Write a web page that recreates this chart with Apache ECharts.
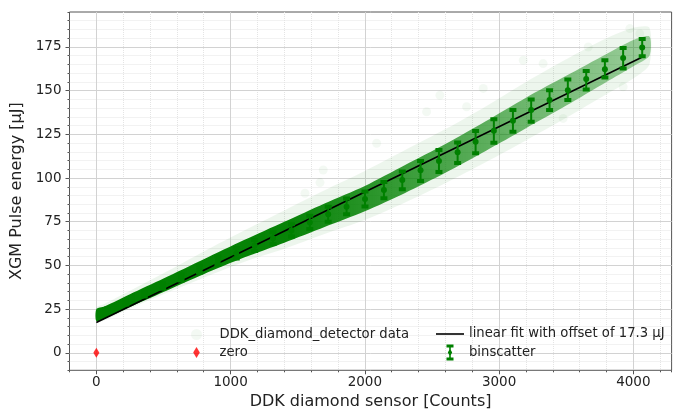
<!DOCTYPE html>
<html>
<head>
<meta charset="utf-8">
<title>XGM pulse energy vs DDK diamond sensor</title>
<script src="https://cdn.jsdelivr.net/npm/echarts@6/dist/echarts.min.js"></script>
<style>
  html, body { margin: 0; padding: 0; background: #fff; }
  #chart { width: 674px; height: 410px; }
</style>
</head>
<body>
<div id="chart"></div>
<script>
// scatter cloud, read as envelopes (faint halo + dense core) along x
var cloudX = [0, 60, 250, 500, 800, 1100, 1400, 1700, 2000, 2300, 2600, 2900, 3200, 3500, 3800, 4000, 4120];
var haloLo = [17.5, 18.5, 25.3, 33.5, 43, 52, 59.5, 68, 76, 86, 97, 109, 121.5, 134.5, 148, 157, 165];
var haloHi = [26, 28, 35.5, 45.5, 58, 70, 81.5, 93, 104, 116, 128, 141, 155, 168, 180, 186, 186];
var coreLo = [18.2, 19.5, 26.2, 34.8, 45, 54.5, 63, 72, 81, 91.5, 103, 115.5, 128.5, 141.5, 155, 164, 170];
var coreHi = [25, 26.5, 33.5, 42.5, 53.5, 64.5, 75, 85.5, 95.5, 107.5, 119.5, 132.5, 146, 158.5, 171, 179, 181];

// a few loose points outside the cloud
var outlierX = [1554, 1666, 1690, 2088, 2460, 2559, 2758, 2882, 3031, 3180, 3328, 3477, 3664, 3924, 3974, 4048];
var outlierY = [91.3, 97.4, 104.6, 119.9, 137.9, 147.4, 140.8, 151.3, 123.6, 167.4, 165.5, 134.1, 175, 152.2, 185.5, 182.6];

// linear fit
var fitX = [0, 4060];
var fitY = [17.3, 169];

// binscatter: bin centre, mean, error bar low/high
var binX = [83, 220, 357, 494, 631, 768, 905, 1042, 1179, 1316, 1453, 1590, 1727, 1864, 2001,
            2142, 2279, 2415, 2552, 2691, 2825, 2961, 3103, 3239, 3376, 3512, 3649, 3788, 3924, 4066];
var binMean = [24.3, 28.9, 33.6, 38.3, 43.2, 48.0, 52.8, 57.0, 61.4, 65.6, 70.0, 74.6, 79.3, 83.6, 88.0,
               93.2, 98.9, 104.5, 109.8, 114.8, 120.8, 127.1, 132.8, 138.9, 144.6, 150.3, 156.6, 162.3, 168.7, 174.7];
var binLo = [23.3, 27.7, 32.2, 36.7, 41.4, 46.0, 50.5, 54.0, 58.3, 62.3, 66.5, 70.8, 75.0, 79.3, 83.7,
             88.5, 93.6, 98.3, 103.5, 108.6, 114.2, 120.2, 126.5, 132.2, 138.9, 144.6, 150.7, 157.5, 162.7, 169.7];
var binHi = [25.3, 30.1, 35.0, 39.9, 45.0, 50.0, 55.1, 60.0, 64.5, 69.0, 73.5, 78.4, 83.6, 88.3, 92.3,
             97.8, 103.7, 109.8, 116.0, 120.4, 126.9, 133.7, 139.0, 145.0, 150.3, 156.4, 161.3, 167.4, 174.4, 179.6];

var zeroX = [0];
var zeroY = [0];

var xTicks = [0, 1000, 2000, 3000, 4000];
var yTicks = [0, 25, 50, 75, 100, 125, 150, 175];

var fitName = 'linear fit with offset of 17.3 μJ';
var font = 'DejaVu Sans';
var green = '#008000';
var diamondPath = 'path://M3,0 L6,5 L3,10 L0,5 Z';
var linePath = 'path://M0,0 H28 V1.6 H0 Z';
var errbarPath = 'path://M0,0 H7 V3 H4.3 V5.5 L5.7,8 L4.3,10.5 V13 H7 V16 H0 V13 H2.7 V10.5 L1.3,8 L2.7,5.5 V3 H0 Z';

function renderCloud(params, api) {
    if (params.dataIndex !== 0) return null;
    function band(lo, hi) {
        var pts = [];
        for (var i = 0; i < cloudX.length; i++) pts.push(api.coord([cloudX[i], hi[i]]));
        for (var j = cloudX.length - 1; j >= 0; j--) pts.push(api.coord([cloudX[j], lo[j]]));
        return pts;
    }
    var coreFill = new echarts.graphic.LinearGradient(0, 0, 1, 0, [
        { offset: 0, color: 'rgba(0,128,0,1)' },
        { offset: 0.35, color: 'rgba(0,128,0,0.97)' },
        { offset: 0.5, color: 'rgba(0,128,0,0.82)' },
        { offset: 0.75, color: 'rgba(0,128,0,0.56)' },
        { offset: 1, color: 'rgba(0,128,0,0.34)' }
    ]);
    return {
        type: 'group',
        children: [
            { type: 'polygon', shape: { points: band(haloLo, haloHi), smooth: 0.25 }, style: { fill: 'rgba(0,128,0,0.07)' } },
            { type: 'polygon', shape: { points: band(coreLo, coreHi), smooth: 0.25 }, style: { fill: coreFill } }
        ]
    };
}

function renderBin(params, api) {
    var x = api.value(0);
    var mid = api.coord([x, api.value(1)]);
    var bot = api.coord([x, api.value(2)]);
    var top = api.coord([x, api.value(3)]);
    var c = api.visual('color');
    return {
        type: 'group',
        children: [
            { type: 'line', shape: { x1: top[0], y1: top[1], x2: bot[0], y2: bot[1] }, style: { stroke: c, lineWidth: 2 } },
            { type: 'rect', shape: { x: top[0] - 3.5, y: top[1] - 2, width: 7, height: 4 }, style: { fill: c } },
            { type: 'rect', shape: { x: bot[0] - 3.5, y: bot[1] - 2, width: 7, height: 4 }, style: { fill: c } },
            { type: 'circle', shape: { cx: mid[0], cy: mid[1], r: 3 }, style: { fill: c } }
        ]
    };
}

var chart = echarts.init(document.getElementById('chart'));

var option = {
    animation: false,
    textStyle: { fontFamily: font },
    grid: {
        left: 69.5, right: 2.4, top: 12, bottom: 39.7,
        outerBoundsMode: 'none', containLabel: false,
        show: true, borderColor: '#555', borderWidth: 1, backgroundColor: 'transparent'
    },
    xAxis: [{
        // minor grid and minor ticks, every 200
        type: 'value', min: -200, max: 4285, interval: 200, position: 'bottom', z: 0,
        axisLine: { show: false, onZero: false },
        axisTick: { length: 2, lineStyle: { color: '#555' } },
        axisLabel: { show: false },
        splitLine: { show: true, showMinLine: false, showMaxLine: false,
            lineStyle: { color: '#e4e4e4', type: 'dotted', width: 1 } }
    }, {
        type: 'value', min: -200, max: 4285, interval: 200, position: 'bottom', z: 1,
        name: 'DDK diamond sensor [Counts]', nameLocation: 'middle', nameGap: 22,
        nameTextStyle: { fontSize: 16, color: '#222', fontFamily: font },
        axisLine: { show: false, onZero: false },
        axisTick: { customValues: xTicks, length: 4, lineStyle: { color: '#555' } },
        axisLabel: { customValues: xTicks, fontSize: 13.5, color: '#222', margin: 5, fontFamily: font,
            formatter: function (v) { return String(v); } },
        splitLine: { show: true, lineStyle: { color: '#d2d2d2', width: 1 } }
    }],
    yAxis: [{
        type: 'value', min: -10, max: 195, interval: 5, position: 'left', z: 0,
        axisLine: { show: false, onZero: false },
        axisTick: { length: 2, lineStyle: { color: '#555' } },
        axisLabel: { show: false },
        splitLine: { show: true, showMinLine: false, showMaxLine: false,
            lineStyle: { color: '#e4e4e4', type: 'dotted', width: 1 } }
    }, {
        type: 'value', min: -10, max: 195, interval: 5, position: 'left', z: 1,
        name: 'XGM Pulse energy [μJ]', nameLocation: 'middle', nameGap: 34,
        nameTextStyle: { fontSize: 16, color: '#222', fontFamily: font },
        axisLine: { show: false, onZero: false },
        axisTick: { customValues: yTicks, length: 4, lineStyle: { color: '#555' } },
        axisLabel: { customValues: yTicks, fontSize: 13.5, color: '#222', margin: 8, fontFamily: font,
            formatter: function (v) { return String(v); } },
        splitLine: { show: true, lineStyle: { color: '#d2d2d2', width: 1 } }
    }],
    legend: [{
        orient: 'vertical', left: 186, top: 323, itemWidth: 36, itemHeight: 11, itemGap: 5,
        textStyle: { fontSize: 13.2, color: '#222', fontFamily: font },
        data: [{ name: 'DDK_diamond_detector data', icon: 'circle' }, { name: 'zero', icon: diamondPath }]
    }, {
        orient: 'vertical', left: 431, top: 322.5, itemWidth: 28, itemHeight: 16, itemGap: 4,
        textStyle: { fontSize: 13.2, color: '#222', fontFamily: font },
        data: [{ name: fitName, icon: linePath }, { name: 'binscatter', icon: errbarPath }]
    }],
    series: [{
        type: 'custom',
        name: 'cloud',
        clip: true,
        z: 1,
        renderItem: renderCloud,
        encode: { x: 0, y: [1, 2] },
        data: cloudX.map(function (x, i) { return [x, haloLo[i], haloHi[i]]; })
    }, {
        type: 'scatter',
        name: 'DDK_diamond_detector data',
        z: 2,
        symbolSize: 9,
        itemStyle: { color: 'rgba(0,128,0,0.06)' },
        data: outlierX.map(function (x, i) { return [x, outlierY[i]]; })
    }, {
        type: 'line',
        name: fitName,
        z: 3,
        symbol: 'none',
        itemStyle: { color: '#000' },
        lineStyle: { color: '#000', width: 1.6 },
        data: fitX.map(function (x, i) { return [x, fitY[i]]; })
    }, {
        type: 'custom',
        name: 'binscatter',
        z: 4,
        clip: true,
        itemStyle: { color: green },
        renderItem: renderBin,
        encode: { x: 0, y: [1, 2, 3] },
        data: binX.map(function (x, i) { return [x, binMean[i], binLo[i], binHi[i]]; })
    }, {
        type: 'scatter',
        name: 'zero',
        z: 5,
        symbol: diamondPath,
        symbolSize: [6, 10],
        itemStyle: { color: '#ff0000' },
        data: zeroX.map(function (x, i) { return [x, zeroY[i]]; })
    }]
};

chart.setOption(option);
</script>
</body>
</html>
